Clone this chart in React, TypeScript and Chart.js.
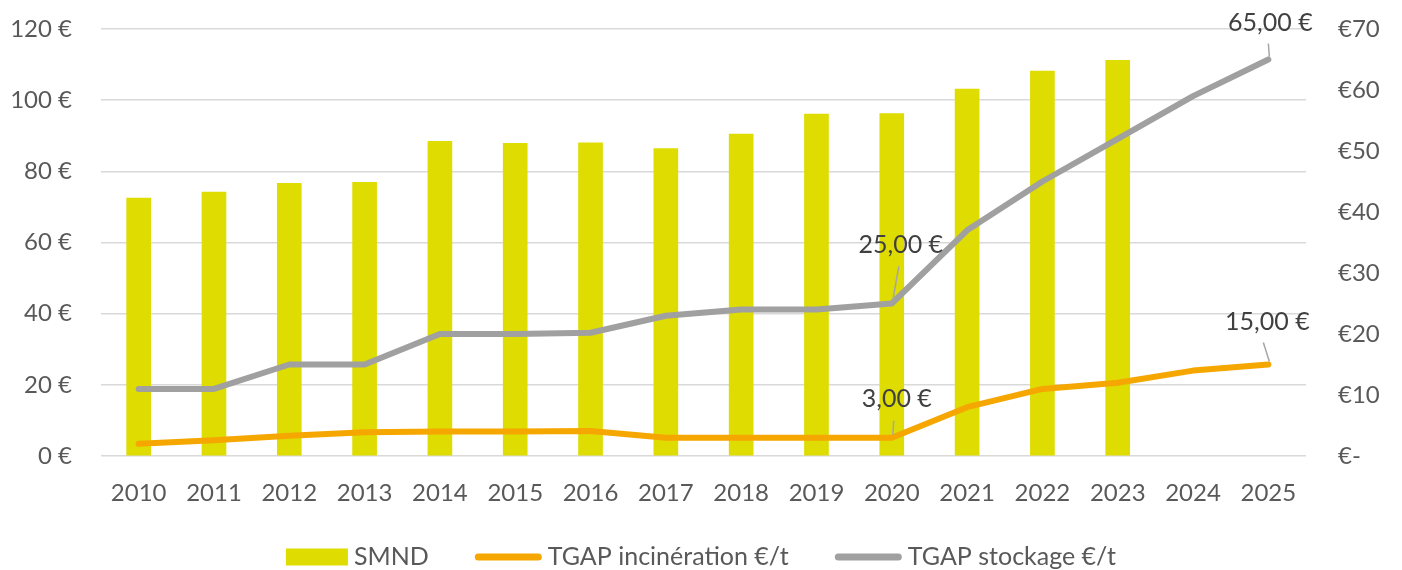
import React, { useEffect, useRef } from "react";
import { Chart, registerables } from "chart.js";

Chart.register(...registerables);

// Years on the category axis
const years = [
  "2010", "2011", "2012", "2013", "2014", "2015", "2016", "2017",
  "2018", "2019", "2020", "2021", "2022", "2023", "2024", "2025",
];

// SMND price (left axis, €)
const smnd = [
  72.5, 74.2, 76.6, 76.9, 88.4, 87.9, 88.0, 86.4,
  90.5, 96.1, 96.2, 103.1, 108.2, 111.2, null, null,
];

// TGAP rates (right axis, €/t)
const tgapIncineration = [2.0, 2.6, 3.3, 3.9, 4.0, 4.0, 4.1, 3, 3, 3, 3, 8, 11, 12, 14, 15];
const tgapStockage = [11, 11, 15, 15, 20, 20, 20.2, 23, 24, 24, 25, 37, 45, 52, 59, 65];

// Axis ranges
const leftMax = 120;
const leftStep = 20;
const rightMax = 70;
const rightStep = 10;

const seriesNames = ["SMND", "TGAP incinération €/t", "TGAP stockage €/t"];
const colors = { smnd: "#dedc00", incineration: "#f5a700", stockage: "#a0a0a0" };

const FONT = "Lato, 'Noto Sans', sans-serif";

// Which points get a value label, and where the label sits relative to the point
const valueLabels = [
  { dataset: 2, index: 10, dx: 9, dy: -59, lx: -2, ly: 22 },
  { dataset: 1, index: 10, dx: 5, dy: -39, lx: -3, ly: 22 },
  { dataset: 2, index: 15, dx: 2, dy: -37, lx: -2, ly: 21 },
  { dataset: 1, index: 15, dx: -1, dy: -43, lx: -4, ly: 21 },
];

const formatEuro = (v: number) => v.toFixed(2).replace(".", ",") + " €";

const valueLabelPlugin = {
  id: "valueLabels",
  afterDatasetsDraw(chart: any) {
    const ctx = chart.ctx;
    ctx.save();
    ctx.font = `25px ${FONT}`;
    ctx.fillStyle = "#404040";
    ctx.textAlign = "center";
    ctx.textBaseline = "middle";
    for (const lbl of valueLabels) {
      const meta = chart.getDatasetMeta(lbl.dataset);
      const pt = meta.data[lbl.index];
      const value = chart.data.datasets[lbl.dataset].data[lbl.index] as number;
      const tx = pt.x + lbl.dx;
      const ty = pt.y + lbl.dy;
      ctx.strokeStyle = "#a6a6a6";
      ctx.lineWidth = 1.5;
      ctx.beginPath();
      ctx.moveTo(tx + lbl.lx, ty + lbl.ly);
      ctx.lineTo(pt.x + 1, pt.y - 3);
      ctx.stroke();
      ctx.fillText(formatEuro(value), tx, ty);
    }
    ctx.restore();
  },
};

// Legend drawn centred along the bottom edge
const legendPlugin = {
  id: "bottomLegend",
  afterDraw(chart: any) {
    const ctx = chart.ctx;
    ctx.save();
    ctx.font = `25px ${FONT}`;
    ctx.textBaseline = "middle";
    ctx.textAlign = "left";
    const y = 557;
    const boxW = 62;
    const lineW = 60;
    const textGap = 6;
    const itemGap = 46;
    const items = chart.data.datasets.map((ds: any) => {
      const isBar = ds.type === "bar";
      const markW = isBar ? boxW : lineW + 7;
      return { ds, isBar, markW, textW: ctx.measureText(ds.label).width };
    });
    const total =
      items.reduce((s: number, it: any) => s + it.markW + textGap + it.textW, 0) +
      itemGap * (items.length - 1);
    let x = chart.width / 2 - total / 2;
    for (const it of items) {
      if (it.isBar) {
        ctx.fillStyle = it.ds.backgroundColor;
        ctx.fillRect(x, y - 8.5, boxW, 17);
      } else {
        ctx.strokeStyle = it.ds.borderColor;
        ctx.lineWidth = 7;
        ctx.lineCap = "round";
        ctx.beginPath();
        ctx.moveTo(x + 3.5, y);
        ctx.lineTo(x + 3.5 + lineW, y);
        ctx.stroke();
      }
      x += it.markW + textGap;
      ctx.fillStyle = "#595959";
      ctx.fillText(it.ds.label, x, y);
      x += it.textW + itemGap;
    }
    ctx.restore();
  },
};

export default function App() {
  const canvasRef = useRef<HTMLCanvasElement | null>(null);

  useEffect(() => {
    document.body.style.margin = "0";
    const canvas = canvasRef.current;
    if (!canvas) return;

    const chart = new Chart(canvas, {
      type: "bar",
      data: {
        labels: years,
        datasets: [
          {
            type: "bar",
            label: seriesNames[0],
            data: smnd,
            backgroundColor: colors.smnd,
            yAxisID: "y",
            barThickness: 24,
            order: 3,
          },
          {
            type: "line",
            label: seriesNames[1],
            data: tgapIncineration,
            borderColor: colors.incineration,
            backgroundColor: colors.incineration,
            borderWidth: 6,
            borderCapStyle: "round",
            borderJoinStyle: "round",
            pointRadius: 0,
            tension: 0,
            yAxisID: "y1",
            order: 1,
          },
          {
            type: "line",
            label: seriesNames[2],
            data: tgapStockage,
            borderColor: colors.stockage,
            backgroundColor: colors.stockage,
            borderWidth: 6,
            borderCapStyle: "round",
            borderJoinStyle: "round",
            pointRadius: 0,
            tension: 0,
            yAxisID: "y1",
            order: 2,
          },
        ] as any,
      },
      options: {
        responsive: false,
        animation: false,
        devicePixelRatio: 1,
        layout: { padding: { top: 29, left: 0, right: 0, bottom: 0 } },
        plugins: {
          legend: { display: false },
          tooltip: { enabled: false },
        },
        scales: {
          x: {
            grid: { display: false, drawTicks: false },
            border: { display: false },
            ticks: {
              color: "#595959",
              font: { family: FONT, size: 24 },
              padding: 23,
              maxRotation: 0,
              autoSkip: false,
            },
            afterFit(scale: any) {
              scale.height = 114;
            },
          },
          y: {
            position: "left",
            min: 0,
            max: leftMax,
            ticks: {
              stepSize: leftStep,
              color: "#595959",
              font: { family: FONT, size: 24 },
              padding: 0,
              callback: (v: any) => `${v} €`,
            },
            grid: {
              color: "#d9d9d9",
              lineWidth: 1.5,
              drawTicks: true,
              tickLength: 29,
              tickColor: "rgba(0,0,0,0)",
            },
            border: { display: false },
            afterFit(scale: any) {
              scale.width = 101;
            },
          },
          y1: {
            position: "right",
            min: 0,
            max: rightMax,
            ticks: {
              stepSize: rightStep,
              color: "#595959",
              font: { family: FONT, size: 24 },
              padding: 0,
              callback: (v: any) => (v === 0 ? "€-" : `€${v}`),
            },
            grid: {
              display: true,
              drawOnChartArea: false,
              drawTicks: true,
              tickLength: 32,
              color: "rgba(0,0,0,0)",
              tickColor: "rgba(0,0,0,0)",
            },
            border: { display: false },
            afterFit(scale: any) {
              scale.width = 96;
            },
          },
        },
      } as any,
      plugins: [valueLabelPlugin, legendPlugin],
    });

    return () => chart.destroy();
  }, []);

  return (
    <div style={{ width: 1402, height: 570, background: "#ffffff" }}>
      <canvas ref={canvasRef} width={1402} height={570} />
    </div>
  );
}
